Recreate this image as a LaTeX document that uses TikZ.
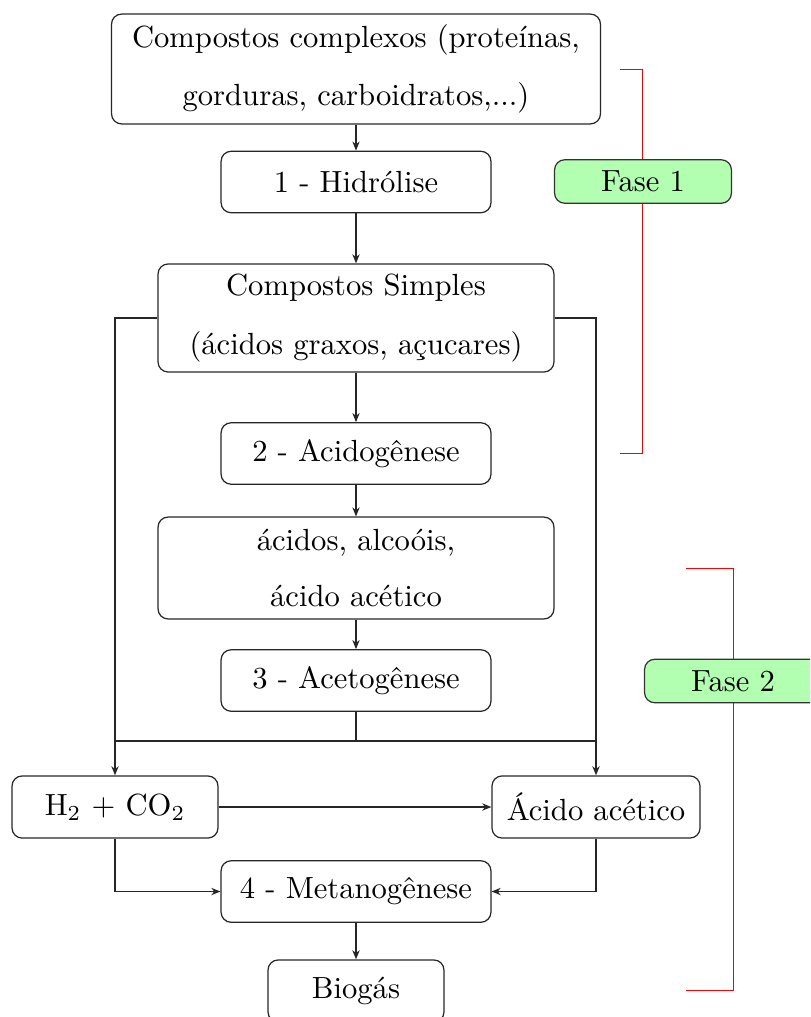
\documentclass[tikz,border=0pt]{standalone}
\usetikzlibrary{arrows.meta}
\begin{document}
\begin{tikzpicture}[x=0.3268pt,y=-0.3268pt,
  box/.style={draw=black!85,rounded corners=3.3pt,align=center,inner sep=0pt,line width=0.4pt},
  wide/.style={box,minimum width=88.2pt,minimum height=20.1pt},
  phase/.style={draw=black!80,fill=green!30,rounded corners=3.3pt,inner sep=0pt,minimum width=57.8pt,minimum height=14.2pt},
  conn/.style={draw=black!85,line width=0.4pt},
  arr/.style={conn,-{Stealth[length=3pt,width=2.4pt]}},
  brk/.style={draw=red,line width=0.3pt}]
\useasboundingbox (0,0) rectangle (810,1017);
\clip (0,0) rectangle (810,1017);
% brackets
\draw[brk] (620,69) -- (642,69) -- (642,453) -- (620,453);
\draw[brk] (686,568) -- (733,568) -- (733,990) -- (686,990);
% phase labels
\node[phase] (f1) at (643,181.5) {Fase 1};
\node[phase] (f2) at (733,681) {Fase 2};
% main nodes
\node[box,minimum width=159.8pt,minimum height=35.9pt] (b1) at (356,69) {Compostos complexos (proteínas,\\[7pt] gorduras, carboidratos,...)};
\node[wide] (b2) at (356,182) {1 - Hidrólise};
\node[box,minimum width=129.4pt,minimum height=35.3pt] (b3) at (356,318) {Compostos Simples\\[7pt] (ácidos graxos, açucares)};
\node[wide] (b4) at (356,453.5) {2 - Acidogênese};
\node[box,minimum width=129.4pt,minimum height=33.3pt] (b5) at (356,568) {ácidos, alcoóis,\\[6pt] ácido acético};
\node[wide] (b6) at (356,680.5) {3 - Acetogênese};
\node[box,minimum width=67.3pt,minimum height=20.3pt] (h2) at (115,807) {H$_2$ + CO$_2$};
\node[box,minimum width=68pt,minimum height=20.3pt] (ac) at (596,807) {Ácido acético};
\node[wide] (me) at (356,891.5) {4 - Metanogênese};
\node[box,minimum width=57.5pt,minimum height=20.3pt] (bio) at (356,991) {Biogás};
% junction
\coordinate (jm) at (356,741);
\coordinate (jl) at (115,741);
\coordinate (jr) at (596,741);
% connectors
\draw[arr] (b1.south) -- (b2.north);
\draw[arr] (b2.south) -- (b3.north);
\draw[arr] (b3.south) -- (b4.north);
\draw[arr] (b4.south) -- (b5.north);
\draw[arr] (b5.south) -- (b6.north);
\draw[conn] (b6.south) -- (jm);
\draw[conn] (jl) -- (jr);
\draw[arr] (b3.west) -| (h2.north);
\draw[arr] (b3.east) -| (ac.north);
\draw[arr] (h2.east) -- (ac.west);
\draw[arr] (h2.south) |- (me.west);
\draw[arr] (ac.south) |- (me.east);
\draw[arr] (me.south) -- (bio.north);
\end{tikzpicture}
\end{document}
